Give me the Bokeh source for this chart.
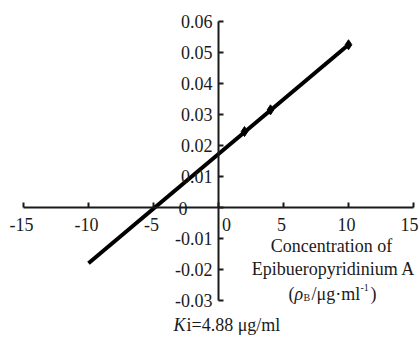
from bokeh.plotting import figure
from bokeh.models import LinearAxis, FixedTicker, Range1d, ColumnDataSource
from bokeh.core.properties import value
from bokeh.embed import file_html
from bokeh.resources import INLINE

# ---- data ----
conc = [2, 4, 10]                       # measured concentrations (µg/ml)
resp = [0.0245, 0.0315, 0.0525]         # measured response
trend_x = [-10, 10]                     # extent of the fitted line
trend_y = [-0.018, 0.0525]
x_ticks = [-15, -10, -5, 0, 5, 10, 15]
x_tick_labels = ["-15", "-10", "-5", "0", "5", "10", "15"]
y_ticks = [-0.03, -0.02, -0.01, 0, 0.01, 0.02, 0.03, 0.04, 0.05, 0.06]
y_tick_labels = ["-0.03", "-0.02", "-0.01", "0", "0.01", "0.02", "0.03", "0.04", "0.05", "0.06"]
axis_title = ["Concentration of", "Epibueropyridinium A"]
ki_text = "i=4.88 \u03bcg/ml"

FONT = value("'Liberation Serif', 'Times New Roman', 'DejaVu Serif', serif")
FS = value("18px")
INK = "#1a1a1a"

# screen scale: 13 px per x unit, 3100 px per y unit
XPX = 13.0
YPX = 3100.0

p = figure(width=420, height=338, output_backend="svg", toolbar_location=None,
           x_range=Range1d(-218 / XPX, 202 / XPX), y_range=Range1d(-131 / YPX, 207 / YPX),
           x_axis_location=None, y_axis_location=None, min_border=0,
           outline_line_color=None, background_fill_color="white")
p.grid.visible = False

def make_axis(loc, bounds):
    return LinearAxis(fixed_location=loc, ticker=FixedTicker(ticks=[], minor_ticks=[]),
                      bounds=bounds, major_tick_in=0, major_tick_out=0,
                      minor_tick_in=0, minor_tick_out=0, major_label_standoff=0,
                      axis_line_width=2, axis_line_color=INK)

p.add_layout(make_axis(0, (x_ticks[0], x_ticks[-1])), "below")
p.add_layout(make_axis(0, (y_ticks[0], y_ticks[-1])), "left")

# tick marks (inward: up for x axis, right for y axis), 5 px long
p.segment(x0=x_ticks, y0=[0] * len(x_ticks), x1=x_ticks, y1=[5 / YPX] * len(x_ticks),
          line_width=2, line_color=INK)
p.segment(x0=[0] * len(y_ticks), y0=y_ticks, x1=[5 / XPX] * len(y_ticks), y1=y_ticks,
          line_width=2, line_color=INK)

# fitted line and points
p.line(trend_x, trend_y, line_width=4, line_color="black")
p.scatter(conc, resp, marker="diamond", size=10, color="black")

# x tick labels (below axis)
xs = ColumnDataSource(dict(x=x_ticks, y=[0] * len(x_ticks), t=x_tick_labels,
                           xo=[8 if v == 0 else (-4 if v == x_ticks[-1] else -2) for v in x_ticks]))
p.text(x="x", y="y", text="t", x_offset="xo", y_offset=10, source=xs,
       text_font=FONT, text_font_size=FS, text_color=INK,
       text_align="center", text_baseline="top")

# y tick labels (left of axis)
ys = ColumnDataSource(dict(x=[0] * len(y_ticks), y=y_ticks, t=y_tick_labels,
                           xo=[-31 if v == 0 else -6 for v in y_ticks],
                           yo=[1 if v == 0 else 0 for v in y_ticks]))
p.text(x="x", y="y", text="t", x_offset="xo", y_offset="yo", source=ys,
       text_font=FONT, text_font_size=FS, text_color=INK,
       text_align="right", text_baseline="middle")

# axis title block
p.text(x=[113 / XPX, 115 / XPX], y=[-38 / YPX, -61 / YPX], text=axis_title,
       text_font=FONT, text_font_size=FS, text_color=INK,
       text_align="center", text_baseline="middle")
ux = 70 / XPX
uy = -86 / YPX
p.text(x=[ux], y=[uy], text=["("], text_font=FONT, text_font_size=FS, text_color=INK,
       text_baseline="middle")
p.text(x=[ux], y=[uy], text=["\u03c1"], x_offset=6, text_font=FONT, text_font_size=FS,
       text_font_style="italic", text_color=INK, text_baseline="middle")
p.text(x=[ux], y=[uy], text=["B"], x_offset=15, y_offset=4, text_font=FONT,
       text_font_size=value("10px"), text_color=INK, text_baseline="middle")
p.text(x=[ux], y=[uy], text=["/\u03bcg\u00b7ml"], x_offset=23, text_font=FONT,
       text_font_size=FS, text_color=INK, text_baseline="middle")
p.text(x=[ux], y=[uy], text=["-1"], x_offset=72, y_offset=-6, text_font=FONT,
       text_font_size=value("10px"), text_color=INK, text_baseline="middle")
p.text(x=[ux], y=[uy], text=[")"], x_offset=82, text_font=FONT,
       text_font_size=FS, text_color=INK, text_baseline="middle")

# Ki annotation
kx = -45 / XPX
ky = -117 / YPX
p.text(x=[kx], y=[ky], text=["K"], text_font=FONT, text_font_size=FS,
       text_font_style="italic", text_color=INK, text_baseline="middle")
p.text(x=[kx], y=[ky], text=[ki_text], x_offset=13, text_font=FONT, text_font_size=FS,
       text_color=INK, text_baseline="middle")

open("out.html", "w").write(file_html(p, INLINE))
